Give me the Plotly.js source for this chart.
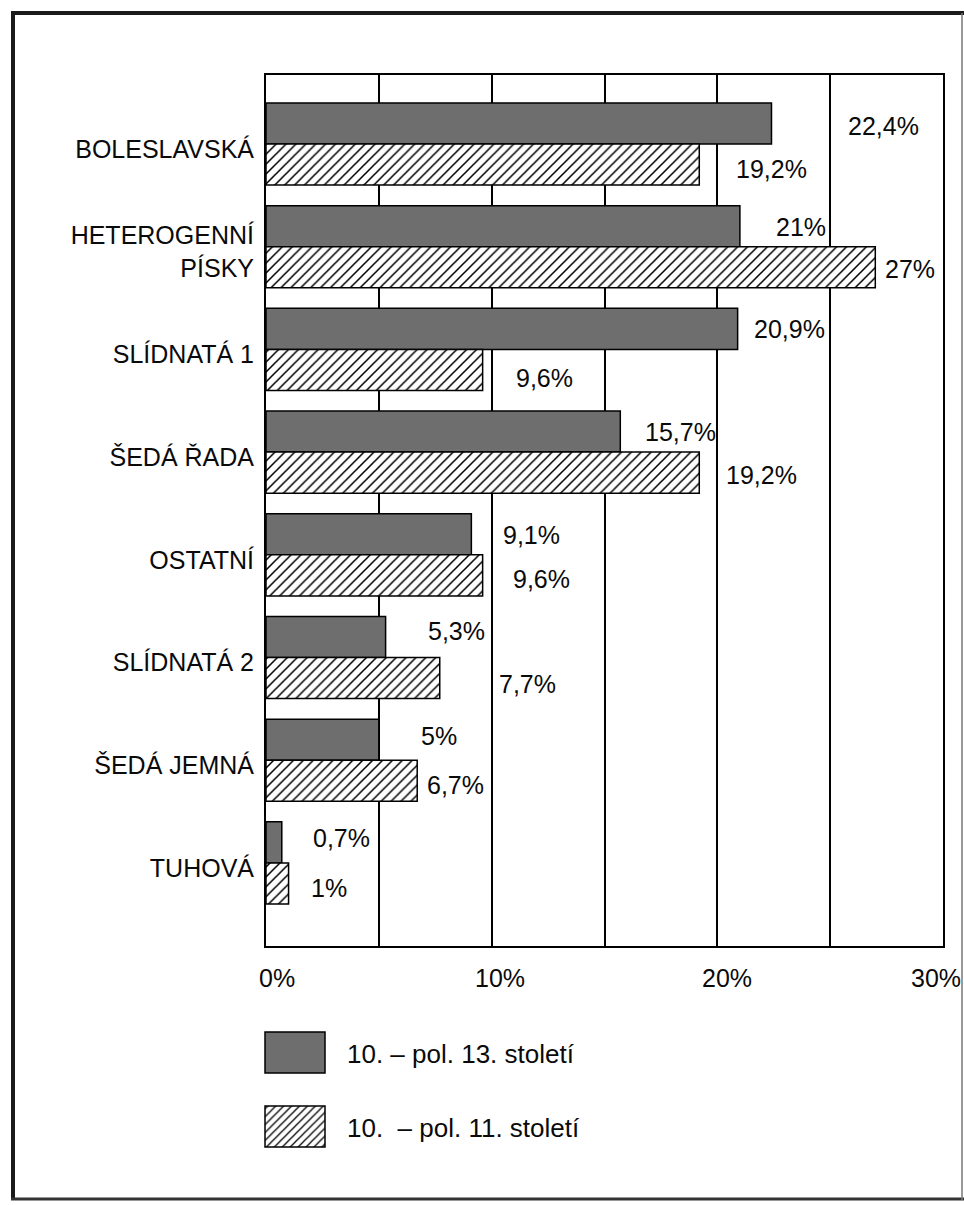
<!DOCTYPE html>
<html>
<head>
<meta charset="utf-8">
<script src="https://cdn.plot.ly/plotly-3.0.1.min.js"></script>
<style>
  html, body { margin: 0; padding: 0; background: #ffffff; }
  #chart { width: 964px; height: 1205px; }
</style>
</head>
<body>
<div id="chart"></div>
<script>
// ---- data ----
var categories = ['BOLESLAVSKÁ', 'HETEROGENNÍ<br>PÍSKY', 'SLÍDNATÁ 1', 'ŠEDÁ ŘADA', 'OSTATNÍ', 'SLÍDNATÁ 2', 'ŠEDÁ JEMNÁ', 'TUHOVÁ'];
var series13Name = '10. – pol. 13. století';
var series13 = [22.4, 21, 20.9, 15.7, 9.1, 5.3, 5, 0.7];
var series11Name = '10.  – pol. 11. století';
var series11 = [19.2, 27, 9.6, 19.2, 9.6, 7.7, 6.7, 1];
var gridVals = [0, 5, 10, 15, 20, 25, 30];
var xTickVals = [0, 10, 20, 30];
var xTickText = ['0%', '10%', '20%', '30%'];

// ---- layout tweaks (label placement, px) ----
var shift13 = [[75, 3], [34, 1], [14, 0], [23, 0], [30, 1], [40, -6], [40, -4], [29, -4]];
var shift11 = [[35, 4], [8, 2], [31, 8], [25, 2], [28, 4], [57, 6], [8, 4], [20, 5]];
var tickShift = [11, 8, 10, -7];

var FONT = 'Liberation Sans, Arial, Helvetica, sans-serif';
var INK = '#0a0a0a';
var DARK = '#6e6e6e';
var FS = 25;

function fmt(v) { return String(v).replace('.', ',') + '%'; }

var traces = [
  {
    type: 'bar', orientation: 'h', name: series13Name,
    y: categories, x: series13,
    marker: { color: DARK, line: { color: '#000000', width: 1.5 } },
    legend: 'legend', hoverinfo: 'x+y'
  },
  {
    type: 'bar', orientation: 'h', name: series11Name,
    y: categories, x: series11,
    marker: {
      color: '#ffffff',
      line: { color: '#000000', width: 1.5 },
      pattern: { shape: '/', fgcolor: '#000000', bgcolor: '#ffffff', size: 7, solidity: 0.22 }
    },
    legend: 'legend2', hoverinfo: 'x+y'
  }
];

var annotations = [];
categories.forEach(function (c, i) {
  annotations.push({
    xref: 'x', yref: 'y', x: series13[i], y: i - 0.2,
    text: fmt(series13[i]), showarrow: false, xanchor: 'left', yanchor: 'middle',
    xshift: shift13[i][0], yshift: -shift13[i][1],
    font: { family: FONT, size: FS, color: INK }
  });
  annotations.push({
    xref: 'x', yref: 'y', x: series11[i], y: i + 0.2,
    text: fmt(series11[i]), showarrow: false, xanchor: 'left', yanchor: 'middle',
    xshift: shift11[i][0], yshift: -shift11[i][1],
    font: { family: FONT, size: FS, color: INK }
  });
});
// x-axis tick labels placed on the axis scale, nudged as in the original
xTickVals.forEach(function (v, i) {
  annotations.push({
    xref: 'x', yref: 'paper', x: v, y: 0,
    text: xTickText[i], showarrow: false, xanchor: 'center', yanchor: 'middle',
    xshift: tickShift[i], yshift: -32,
    font: { family: FONT, size: FS, color: INK }
  });
});

// outer frame (paper coords derived from pixel frame)
var L = 266, T = 75, W = 677, H = 871;
function px(x) { return (x - L) / W; }
function py(y) { return 1 - (y - T) / H; }
var shapes = [
  { type: 'line', xref: 'paper', yref: 'paper', x0: px(13), x1: px(13), y0: py(12), y1: py(1200), line: { color: '#1a1a1a', width: 4 } },
  { type: 'line', xref: 'paper', yref: 'paper', x0: px(11), x1: px(964), y0: py(13), y1: py(13), line: { color: '#1a1a1a', width: 4 } },
  { type: 'line', xref: 'paper', yref: 'paper', x0: px(11), x1: px(964), y0: py(1199), y1: py(1199), line: { color: '#333333', width: 3 } },
  { type: 'line', xref: 'paper', yref: 'paper', x0: px(962), x1: px(962), y0: py(13), y1: py(1200), line: { color: '#777777', width: 1.5 } }
];

var layout = {
  width: 964, height: 1205,
  margin: { l: L, r: 964 - L - W, t: T, b: 1205 - T - H, pad: 0 },
  paper_bgcolor: '#ffffff', plot_bgcolor: '#ffffff',
  font: { family: FONT, size: FS, color: INK },
  barmode: 'group', bargap: 0.2, bargroupgap: 0,
  xaxis: {
    range: [0, 30], tickvals: gridVals, showticklabels: false,
    showgrid: true, gridcolor: '#000000', gridwidth: 2,
    showline: true, linecolor: '#000000', linewidth: 2, mirror: true,
    zeroline: false, ticks: '', fixedrange: true
  },
  yaxis: {
    type: 'category', categoryorder: 'array', categoryarray: categories,
    range: [7.809, -0.672], autorange: false,
    showgrid: false, showline: true, linecolor: '#000000', linewidth: 2, mirror: true,
    zeroline: false, ticks: '', ticklabelstandoff: 5, ticklabelshift: -5, fixedrange: true,
    tickfont: { family: FONT, size: FS, color: INK }
  },
  showlegend: true,
  legend: {
    x: px(243), y: py(1052.5), xanchor: 'left', yanchor: 'middle',
    bgcolor: 'rgba(0,0,0,0)', borderwidth: 0, itemwidth: 94,
    font: { family: FONT, size: 26, color: INK }
  },
  legend2: {
    x: px(243), y: py(1126.5), xanchor: 'left', yanchor: 'middle',
    bgcolor: 'rgba(0,0,0,0)', borderwidth: 0, itemwidth: 94,
    font: { family: FONT, size: 26, color: INK }
  },
  annotations: annotations,
  shapes: shapes
};

Plotly.newPlot('chart', traces, layout, { displayModeBar: false, staticPlot: true }).then(function (gd) {
  gd.querySelectorAll('.legendpoints path').forEach(function (p) {
    p.setAttribute('d', 'M30,20.5H-30V-20.5H30Z');
  });
});
</script>
</body>
</html>
